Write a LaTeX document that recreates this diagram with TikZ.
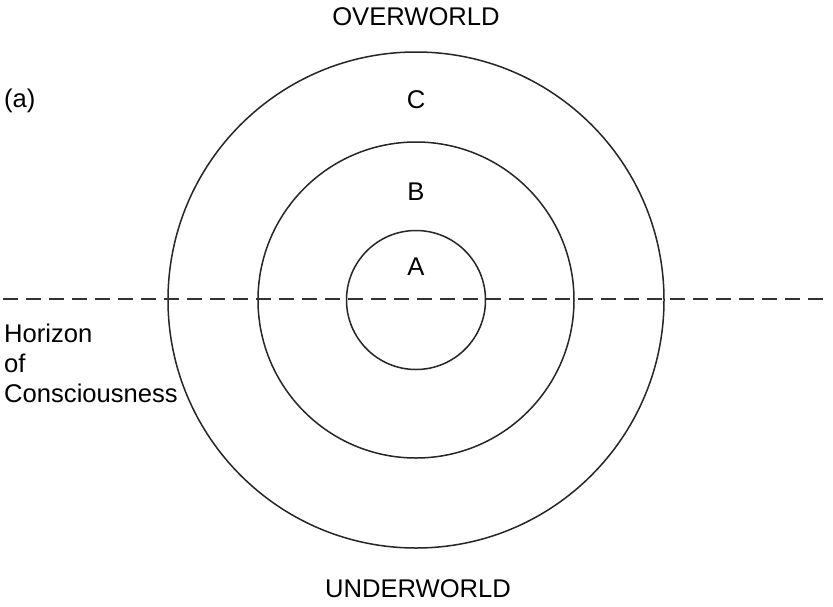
\documentclass[tikz,border=0pt]{standalone}
\usepackage{fontspec}
\setmainfont{Liberation Sans}
\begin{document}
\begin{tikzpicture}[x=1pt,y=-1pt,
  ring/.style={draw=black!85,line width=1.5pt},
  horizonline/.style={draw=black!80,line width=1.4pt,dash pattern=on 15pt off 8pt},
  lbl/.style={inner sep=0pt,font=\fontsize{25.6}{29.5}\selectfont,anchor=base}]
\useasboundingbox (0,0) rectangle (833,606);
\fill[white] (0,0) rectangle (833,606);
\coordinate (ctr) at (416,300);
\draw[ring] (ctr) circle[radius=248];
\draw[ring] (ctr) circle[radius=158];
\draw[ring] (ctr) circle[radius=69.5];
\coordinate (hl) at (3,299);
\coordinate (hr) at (829,299);
\draw[horizonline] (hl) -- (hr);
\node[lbl] (over) at (416,25) {OVERWORLD};
\node[lbl] (under) at (418,597) {UNDERWORLD};
\node[lbl,anchor=base west] (tag) at (4,107) {(a)};
\node[lbl] (C) at (416,108) {C};
\node[lbl] (B) at (416,200) {B};
\node[lbl] (A) at (416,275) {A};
\node[lbl,anchor=base west] (h1) at (4,342) {Horizon};
\node[lbl,anchor=base west] (h2) at (4,372) {of};
\node[lbl,anchor=base west] (h3) at (4,402) {Consciousness};
\end{tikzpicture}
\end{document}
